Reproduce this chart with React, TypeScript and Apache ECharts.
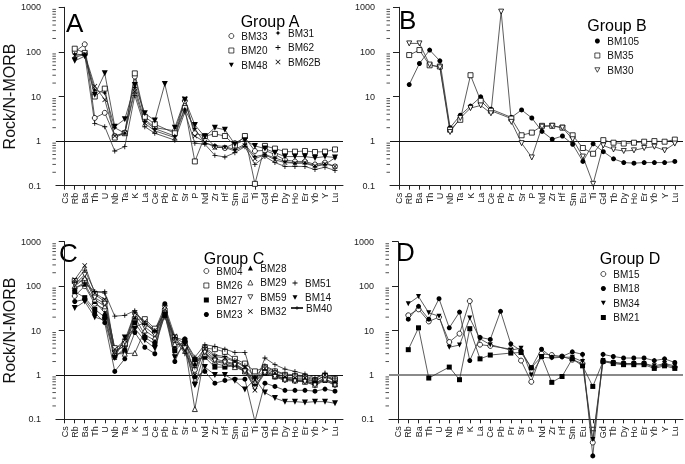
import React, { useEffect, useRef } from 'react';
import * as echarts from 'echarts';

const FONT = '"Liberation Sans", Arial, Helvetica, sans-serif';

const categories = ['Cs','Rb','Ba','Th','U','Nb','Ta','K','La','Ce','Pb','Pr','Sr','P','Nd','Zr','Hf','Sm','Eu','Ti','Gd','Tb','Dy','Ho','Er','Yb','Y','Lu'];
const yTickLabels = ['0.1', '1', '10', '100', '1000'];
const minorTickValues = [0.2,0.3,0.4,0.5,0.6,0.7,0.8,0.9,2,3,4,5,6,7,8,9,20,30,40,50,60,70,80,90,200,300,400,500,600,700,800,900];
const panelLetters = ['A', 'B', 'C', 'D'];
const groupTitles = ['Group A', 'Group B', 'Group C', 'Group D'];
const yAxisTitle = 'Rock/N-MORB';

// ---- Group A ----
const BM33 = [null,100,148,3.3,4.3,1.3,1.55,28,3.1,2.0,null,1.7,8.0,1.5,1.3,0.75,0.7,0.9,1.2,0.6,0.62,0.5,0.38,0.35,0.35,0.3,0.33,0.27];
const BM20 = [null,118,95,10,15,1.2,1.5,33,3.5,2.4,null,1.5,5.5,0.35,1.3,1.45,1.3,0.8,1.3,0.11,0.78,0.68,0.58,0.58,0.6,0.57,0.58,0.65];
const BM48 = [null,63,80,11,33,2.1,3.1,18,4.2,2.9,19,2.0,8.5,2.3,1.25,2.0,1.8,0.85,1.05,0.78,0.68,0.55,0.45,0.45,0.45,0.42,0.45,0.43];
const BM31 = [null,90,85,14,12,2.0,1.5,16,2.8,1.9,null,1.3,5.2,1.9,0.9,0.8,0.75,0.65,0.85,0.45,0.5,0.42,0.35,0.32,0.32,0.27,0.3,0.42];
const BM62 = [null,75,88,2.5,2.1,0.6,0.75,10.5,2.1,1.5,null,1.05,4.5,0.9,0.85,0.48,0.44,0.55,0.75,0.3,0.45,0.33,0.27,0.27,0.27,0.23,0.26,0.22];
const BM62B = [null,82,90,17,8.5,1.3,1.5,13,2.5,1.7,null,1.2,9.0,1.3,0.95,0.72,0.72,0.6,0.8,0.4,0.5,0.38,0.33,0.32,0.33,0.28,0.31,0.27];

// ---- Group B ----
const BM105 = [null,18.5,55,110,63,2.0,3.8,6.1,9.8,5.2,null,3.4,5.0,3.3,1.65,1.1,1.3,0.85,0.35,0.87,0.58,0.4,0.33,0.32,0.33,0.33,0.33,0.35];
const BM35 = [null,85,110,50,47,1.8,3.0,30,8.0,4.8,null,3.2,1.35,1.55,2.2,2.2,2.0,1.35,0.7,0.52,1.05,0.92,0.88,0.92,0.97,1.0,0.97,1.08];
const BM30 = [null,155,155,52,45,1.6,3.3,5.5,6.3,4.2,800,2.7,0.9,0.43,2.1,2.2,2.0,1.1,0.45,0.11,0.8,0.65,0.6,0.62,0.7,0.75,0.62,0.88];

// ---- Group C ----
const BM04 = [null,60,100,40,30,3.5,4.5,12,15,9,30,6,4,1.3,3.5,2.3,2.0,1.8,1.3,0.8,1.3,1.0,0.8,0.75,0.75,0.62,0.9,0.75];
const BM26 = [null,130,130,65,45,4.0,5,18,18,11,25,7,5,2.0,4.0,3.8,3.3,2.3,1.8,1.2,1.5,1.2,1.0,0.95,0.9,0.75,0.95,0.8];
const BM27 = [null,75,55,30,20,2.7,3.5,15,7,5,22,3.5,6,2.2,2.5,1.5,1.5,1.6,1.2,0.6,1.1,0.9,0.8,0.75,0.72,0.65,0.75,0.6];
const BM23 = [null,45,50,25,15,1.2,2.3,9,4.2,3.0,40,2.0,6.5,0.9,1.2,0.65,0.75,0.8,0.8,0.09,0.65,0.55,0.45,0.45,0.45,0.43,0.48,0.43];
const BM28 = [null,90,110,45,25,2.5,4,20,8,6,24,4.5,5.5,1.8,2.8,1.8,1.6,1.7,1.3,0.7,1.2,0.95,0.85,0.8,0.8,0.68,0.8,0.65];
const BM29 = [null,100,150,50,35,3.0,3.0,3.1,10,7,28,5,4.5,0.17,3.0,2.0,1.8,1.5,1.2,0.7,1.2,0.95,0.8,0.75,0.7,0.6,0.8,0.62];
const BM59 = [null,110,180,55,40,3.2,5.5,22,12,8,32,6,4,0.6,3.2,2.1,1.9,1.7,1.2,0.5,1.1,0.9,0.75,0.72,0.7,0.58,0.75,0.58];
const BM32 = [null,140,290,70,50,3.8,6,25,16,10,35,7.5,3.5,1.0,3.8,2.6,2.4,2.0,1.5,0.45,1.4,1.1,0.9,0.85,0.85,0.7,1.0,0.7];
const BM51 = [null,120,230,75,75,3.3,4.5,26,14,9.5,20,6.5,3.0,1.5,4.2,2.8,2.6,2.1,1.6,0.9,1.6,1.25,1.05,1.0,0.95,0.8,1.1,0.7];
const BM14 = [null,32,45,20,17,2.4,7,11,6,4,23,2.5,5,0.6,1.5,1.0,1.0,0.74,0.47,0.8,0.4,0.3,0.25,0.25,0.24,0.25,0.25,0.23];
const BM40 = [null,90,120,75,70,21,22,28,14,10,25,7,6,2.5,4.8,4.4,3.8,3.2,3.2,0.6,2.4,1.7,1.35,1.2,1.05,0.85,1.05,0.85];

// ---- Group D ----
const BM15 = [null,22,30,16,20,5.5,8.5,46,4.8,4.5,null,3.8,2.1,0.7,3.0,2.8,2.6,2.2,1.8,0.03,2.0,1.9,1.8,1.8,1.8,1.5,1.7,1.5];
const BM18 = [null,18,35,18,52,11.5,26,2.1,7,6.3,27,5,3.5,1.45,3.8,2.5,2.6,3.3,2.9,0.015,2.9,2.6,2.4,2.4,2.4,2.1,2.3,1.9];
const BM34 = [null,40,58,25,21,4.2,4.7,19,6.5,4.8,null,3.6,4.0,1.0,2.5,2.4,2.5,2.5,2.0,0.035,2.1,1.9,1.8,1.8,1.8,1.6,1.8,1.6];
const BM21 = [null,3.7,11.5,0.85,null,1.5,0.78,11,2.3,2.8,null,3.1,3.2,1.45,2.6,0.68,0.92,2.3,1.6,0.55,2.0,1.8,1.7,1.7,1.7,1.4,1.6,1.4];

const SYM = {
  circle: 'circle',
  square: 'rect',
  triUp: 'triangle',
  triDown: 'path://M0,0L10,0L5,9Z',
  plus: 'path://M4.2,0H5.8V4.2H10V5.8H5.8V10H4.2V5.8H0V4.2H4.2Z',
  cross: 'path://M1,0L5,4L9,0L10,1L6,5L10,9L9,10L5,6L1,10L0,9L4,5L0,1Z',
  star: 'path://M5,0L6.6,3.4L10,5L6.6,6.6L5,10L3.4,6.6L0,5L3.4,3.4Z',
};

type SDef = { name: string; data: (number | null)[]; symbol: string; filled: boolean; size?: number };

const panels: SDef[][] = [
  [
    { name: 'BM33', data: BM33, symbol: SYM.circle, filled: false },
    { name: 'BM20', data: BM20, symbol: SYM.square, filled: false },
    { name: 'BM48', data: BM48, symbol: SYM.triDown, filled: true, size: 6 },
    { name: 'BM31', data: BM31, symbol: SYM.star, filled: true },
    { name: 'BM62', data: BM62, symbol: SYM.plus, filled: true },
    { name: 'BM62B', data: BM62B, symbol: SYM.cross, filled: true },
  ],
  [
    { name: 'BM105', data: BM105, symbol: SYM.circle, filled: true },
    { name: 'BM35', data: BM35, symbol: SYM.square, filled: false },
    { name: 'BM30', data: BM30, symbol: SYM.triDown, filled: false },
  ],
  [
    { name: 'BM04', data: BM04, symbol: SYM.circle, filled: false },
    { name: 'BM26', data: BM26, symbol: SYM.square, filled: false },
    { name: 'BM27', data: BM27, symbol: SYM.square, filled: true },
    { name: 'BM23', data: BM23, symbol: SYM.circle, filled: true },
    { name: 'BM28', data: BM28, symbol: SYM.triUp, filled: true },
    { name: 'BM29', data: BM29, symbol: SYM.triUp, filled: false },
    { name: 'BM59', data: BM59, symbol: SYM.triDown, filled: false },
    { name: 'BM32', data: BM32, symbol: SYM.cross, filled: true },
    { name: 'BM51', data: BM51, symbol: SYM.plus, filled: true },
    { name: 'BM14', data: BM14, symbol: SYM.triDown, filled: true, size: 6 },
    { name: 'BM40', data: BM40, symbol: SYM.plus, filled: true },
  ],
  [
    { name: 'BM15', data: BM15, symbol: SYM.circle, filled: false },
    { name: 'BM18', data: BM18, symbol: SYM.circle, filled: true },
    { name: 'BM34', data: BM34, symbol: SYM.triDown, filled: true },
    { name: 'BM21', data: BM21, symbol: SYM.square, filled: true },
  ],
];

const grids = [
  { left: 50, top: 7.3, width: 293, height: 178.4 },
  { left: 390, top: 7.3, width: 293, height: 178.4 },
  { left: 50, top: 241.7, width: 293, height: 177.6 },
  { left: 389, top: 241.7, width: 294, height: 177.6 },
];

const X_MIN = -0.88;
const X_MAX = 27.8;
const catIdx = categories.map((_, i) => i);

function findDef(name: string): SDef {
  for (const p of panels) for (const s of p) if (s.name === name) return s;
  return panels[0][0];
}

function legend(names: string[], left: number, top: number, withLine = false) {
  return {
    orient: 'vertical',
    left,
    top,
    itemWidth: withLine ? 12 : 5,
    itemHeight: 5,
    itemGap: 4.5,
    selectedMode: false,
    padding: 0,
    textStyle: { fontFamily: FONT, fontSize: 10, color: '#111', padding: [0, 0, 0, withLine ? -2 : 2.5] },
    data: names.map((n) => {
      const d = findDef(n);
      if (withLine) return { name: n };
      return {
        name: n,
        icon: d.symbol,
        itemStyle: d.filled
          ? { color: '#000', borderColor: '#000', borderWidth: 0 }
          : { color: '#fff', borderColor: '#000', borderWidth: 0.7 },
      };
    }),
  };
}

export default function App() {
  const ref = useRef<HTMLDivElement>(null);
  useEffect(() => {
    if (!ref.current) return;
    const chart = echarts.init(ref.current, undefined, { renderer: 'svg' });

    const xAxis = grids.map((_, i) => ({
      type: 'value',
      gridIndex: i,
      min: X_MIN,
      max: X_MAX,
      splitLine: { show: false },
      axisLine: { show: true, onZero: false, lineStyle: { color: '#222', width: 1 } },
      axisTick: { show: true, length: 4, customValues: catIdx, lineStyle: { color: '#222' } },
      axisLabel: {
        show: true,
        customValues: catIdx,
        rotate: 90,
        margin: 7,
        fontSize: 9,
        fontFamily: FONT,
        color: '#222',
        formatter: (v: number) => categories[Math.round(v)] ?? '',
      },
    }));

    const yAxis = grids.map((_, i) => ({
      type: 'log',
      gridIndex: i,
      logBase: 10,
      min: 0.1,
      max: 1000,
      name: i % 2 === 0 ? yAxisTitle : '',
      nameLocation: 'middle',
      nameGap: 33,
      nameTextStyle: { fontFamily: FONT, fontSize: 16, color: '#111' },
      splitLine: { show: false },
      axisLine: { show: true, lineStyle: { color: '#222', width: 1 } },
      axisTick: { show: true, length: 6, lineStyle: { color: '#222' } },
      axisLabel: {
        fontSize: 9,
        fontFamily: FONT,
        color: '#222',
        margin: 15,
        formatter: (v: number) => {
          const e = Math.round(Math.log10(v));
          return yTickLabels[e + 1] ?? String(v);
        },
      },
    }));

    const series: any[] = [];
    panels.forEach((defs, pi) => {
      defs.forEach((s, si) => {
        const ser: any = {
          type: 'line',
          name: s.name,
          xAxisIndex: pi,
          yAxisIndex: pi,
          data: s.data
            .map((v, i) => (v == null ? null : [i, v]))
            .filter((d) => d != null),
          symbol: s.symbol,
          symbolSize: s.size ?? 5,
          clip: pi !== 3,
          lineStyle: { color: '#333', width: 0.8 },
          itemStyle: {
            color: s.filled ? '#000' : '#fff',
            borderColor: '#000',
            borderWidth: s.filled ? 0 : 0.8,
          },
          emphasis: { disabled: true },
          z: 3,
        };
        if (si === 0) {
          ser.markLine = {
            silent: true,
            symbol: ['none', 'none'],
            label: { show: false },
            lineStyle: pi === 3 ? { color: '#8a8a8a', width: 2, type: 'solid' } : { color: '#111', width: 1, type: 'solid' },
            emphasis: { disabled: true },
            data: [{ yAxis: 1 }],
            z: 2,
          };
        }
        series.push(ser);
      });
      series.push({
        type: 'custom',
        xAxisIndex: pi,
        yAxisIndex: pi,
        silent: true,
        clip: false,
        data: minorTickValues.map((v) => [X_MIN, v]),
        renderItem: (_p: any, api: any) => {
          const pt = api.coord([api.value(0), api.value(1)]);
          return {
            type: 'line',
            shape: { x1: pt[0] - 3.5, y1: pt[1], x2: pt[0], y2: pt[1] },
            style: { stroke: '#222', lineWidth: 0.8 },
          };
        },
        z: 1,
      });
    });

    const letterPos = [
      { x: 66, y: 23 },
      { x: 399, y: 20 },
      { x: 59, y: 253 },
      { x: 396, y: 252 },
    ];
    const titlePos = [
      { x: 270, y: 21 },
      { x: 617, y: 25 },
      { x: 234, y: 258 },
      { x: 630, y: 258 },
    ];
    const graphic: any[] = [];
    panelLetters.forEach((l, i) => {
      graphic.push({
        type: 'text',
        x: letterPos[i].x,
        y: letterPos[i].y,
        style: { text: l, font: `26px ${FONT}`, fill: '#000', textAlign: 'left', textVerticalAlign: 'middle' },
      });
      graphic.push({
        type: 'text',
        x: titlePos[i].x,
        y: titlePos[i].y,
        style: { text: groupTitles[i], font: `16px ${FONT}`, fill: '#000', textAlign: 'center', textVerticalAlign: 'middle' },
      });
    });

    chart.setOption({
      animation: false,
      grid: grids.map((g) => ({ ...g, containLabel: false })),
      xAxis,
      yAxis,
      legend: [
        legend(['BM33', 'BM20', 'BM48'], 228.5, 31),
        legend(['BM31', 'BM62', 'BM62B'], 275.5, 28),
        legend(['BM105', 'BM35', 'BM30'], 594.5, 36),
        legend(['BM04', 'BM26', 'BM27', 'BM23'], 203.5, 266),
        legend(['BM28', 'BM29', 'BM59', 'BM32'], 247.5, 263),
        legend(['BM51', 'BM14'], 292.5, 278),
        legend(['BM40'], 290, 303, true),
        legend(['BM15', 'BM18', 'BM34', 'BM21'], 600.5, 269),
      ],
      graphic,
      series,
    });
    return () => chart.dispose();
  }, []);
  return <div ref={ref} style={{ position: 'fixed', left: 0, top: 0, width: 685, height: 464 }} />;
}
